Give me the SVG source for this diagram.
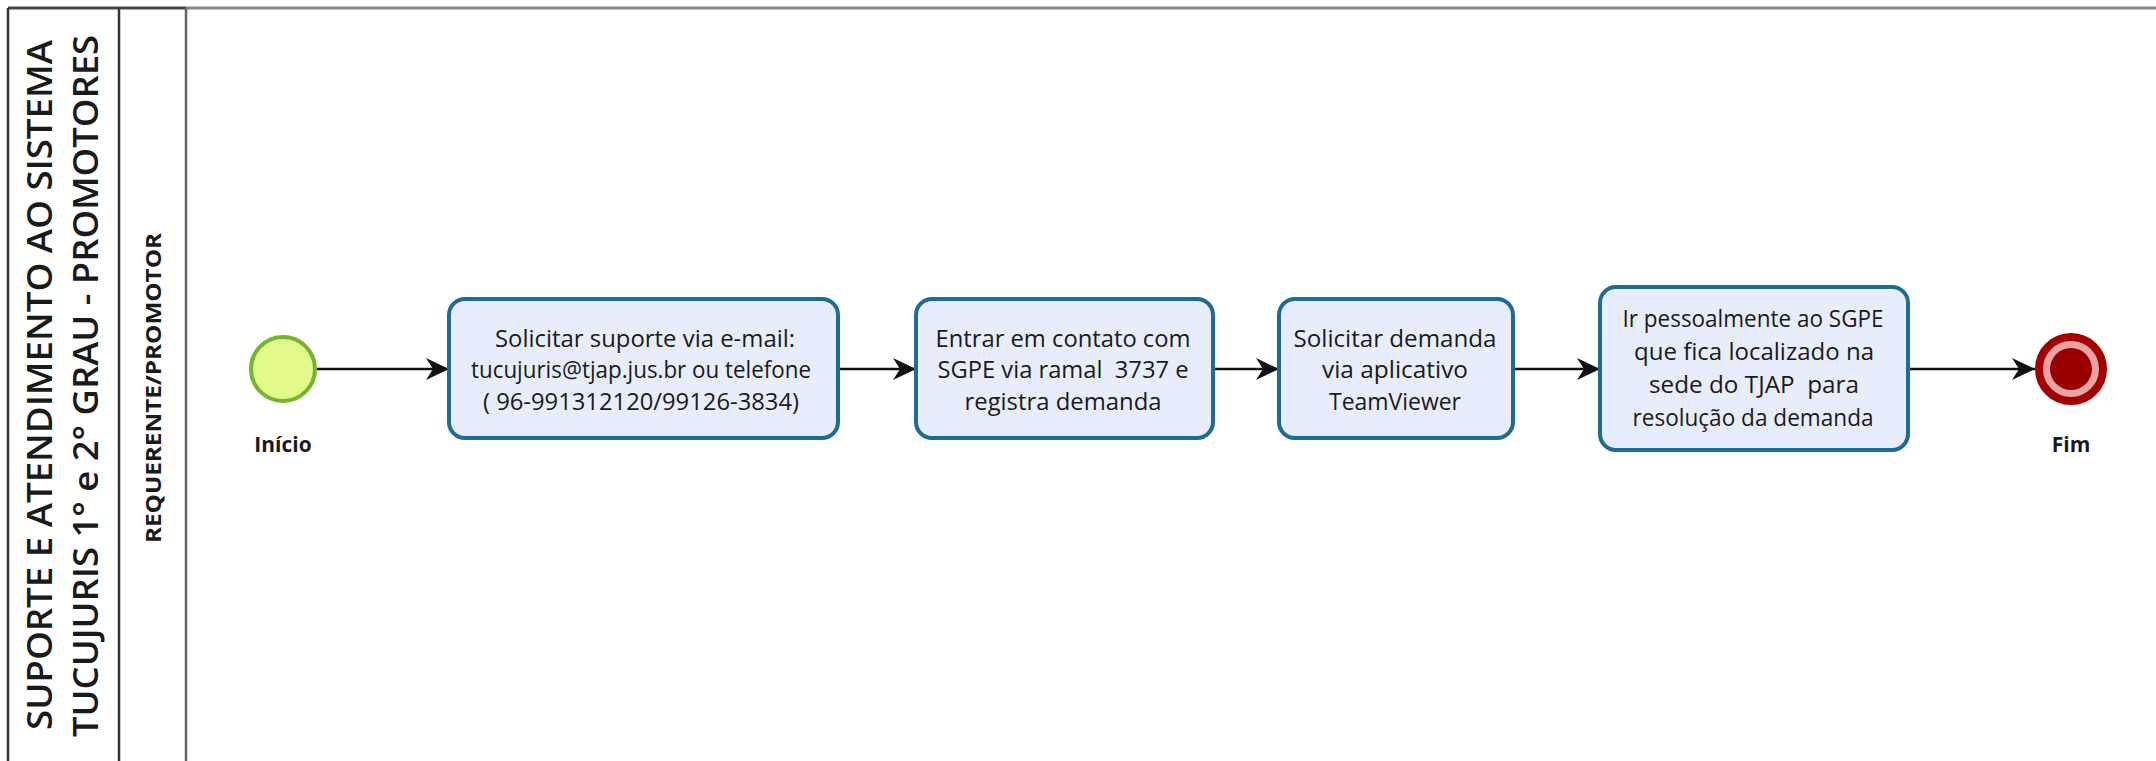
<svg xmlns="http://www.w3.org/2000/svg" width="2156" height="761" viewBox="0 0 2156 761">
<style>
.pool{fill:none;stroke:#333;stroke-width:2.5}
.lane{fill:none;stroke:#666;stroke-width:2.5}
.title{font-family:"Open Sans","Noto Sans",sans-serif;font-size:35px;font-weight:600;fill:#1a1a1a;text-anchor:middle}
.lanelbl{font-family:"Open Sans","Noto Sans",sans-serif;font-size:21px;font-weight:bold;fill:#1a1a1a;text-anchor:middle}
.task{fill:#e8edfb;stroke:#1f6b95;stroke-width:4}
.tt{font-family:"Open Sans","Noto Sans",sans-serif;font-size:23px;fill:#1a1a1a;text-anchor:middle;white-space:pre}
.lbl{font-family:"Open Sans","Noto Sans",sans-serif;font-size:21px;font-weight:bold;fill:#1a1a1a;text-anchor:middle}
.flow{fill:none;stroke:#111;stroke-width:2.5}
</style>
<defs>
<marker id="arr" markerUnits="userSpaceOnUse" markerWidth="24" markerHeight="24" viewBox="0 0 24 24" refX="23" refY="12" orient="auto">
<path d="M0,1 L23,12 L0,23 L7,12 z" fill="#111"/>
</marker>
</defs>
<rect x="0" y="0" width="2156" height="761" fill="#ffffff"/>
<g id="pool">
<line x1="8" y1="8" x2="2156" y2="8" stroke="#888" stroke-width="3"/>
<line x1="8" y1="8" x2="186" y2="8" stroke="#444" stroke-width="2.5"/>
<line x1="8" y1="8" x2="8" y2="761" class="pool"/>
<line x1="119" y1="8" x2="119" y2="761" class="pool"/>
<line x1="186" y1="8" x2="186" y2="761" class="lane"/>
<text class="title" x="52" y="385" transform="rotate(-90 52 385)" textLength="690" lengthAdjust="spacingAndGlyphs">SUPORTE E ATENDIMENTO AO SISTEMA</text>
<text class="title" x="98" y="386" transform="rotate(-90 98 386)" textLength="702" lengthAdjust="spacingAndGlyphs">TUCUJURIS 1° e 2° GRAU - PROMOTORES</text>
</g>
<g id="lane">
<text class="lanelbl" x="161" y="388" transform="rotate(-90 161 388)" textLength="310" lengthAdjust="spacingAndGlyphs">REQUERENTE/PROMOTOR</text>
</g>
<g id="connectors">
<line class="flow" x1="317" y1="369" x2="449" y2="369" marker-end="url(#arr)"/>
<line class="flow" x1="838" y1="369" x2="916" y2="369" marker-end="url(#arr)"/>
<line class="flow" x1="1213" y1="369" x2="1279" y2="369" marker-end="url(#arr)"/>
<line class="flow" x1="1513" y1="369" x2="1600" y2="369" marker-end="url(#arr)"/>
<line class="flow" x1="1908" y1="369" x2="2035" y2="369" marker-end="url(#arr)"/>
</g>
<g id="start">
<circle cx="283" cy="369" r="32" fill="#e2f98c" stroke="#74b62c" stroke-width="4"/>
<text class="lbl" x="283" y="452">Início</text>
</g>
<g id="task1">
<rect class="task" x="449" y="299" width="389" height="139" rx="16"/>
<text class="tt" x="645" y="347" textLength="300" lengthAdjust="spacingAndGlyphs">Solicitar suporte via e-mail:</text>
<text class="tt" x="641" y="378" textLength="340" lengthAdjust="spacingAndGlyphs">tucujuris@tjap.jus.br ou telefone</text>
<text class="tt" x="641" y="410" textLength="316" lengthAdjust="spacingAndGlyphs">( 96-991312120/99126-3834)</text>
</g>
<g id="task2">
<rect class="task" x="916" y="299" width="297" height="139" rx="16"/>
<text class="tt" x="1063" y="347" textLength="255" lengthAdjust="spacingAndGlyphs">Entrar em contato com</text>
<text class="tt" x="1063" y="378" textLength="251" lengthAdjust="spacingAndGlyphs">SGPE via ramal  3737 e</text>
<text class="tt" x="1063" y="410" textLength="197" lengthAdjust="spacingAndGlyphs">registra demanda</text>
</g>
<g id="task3">
<rect class="task" x="1279" y="299" width="234" height="139" rx="16"/>
<text class="tt" x="1395" y="347" textLength="203" lengthAdjust="spacingAndGlyphs">Solicitar demanda</text>
<text class="tt" x="1395" y="378" textLength="146" lengthAdjust="spacingAndGlyphs">via aplicativo</text>
<text class="tt" x="1395" y="410" textLength="132" lengthAdjust="spacingAndGlyphs">TeamViewer</text>
</g>
<g id="task4">
<rect class="task" x="1600" y="287" width="308" height="163" rx="16"/>
<text class="tt" x="1753" y="327" textLength="261" lengthAdjust="spacingAndGlyphs">Ir pessoalmente ao SGPE</text>
<text class="tt" x="1754" y="360" textLength="240" lengthAdjust="spacingAndGlyphs">que fica localizado na</text>
<text class="tt" x="1754" y="393" textLength="210" lengthAdjust="spacingAndGlyphs">sede do TJAP  para</text>
<text class="tt" x="1753" y="426" textLength="241" lengthAdjust="spacingAndGlyphs">resolução da demanda</text>
</g>
<g id="end">
<circle cx="2071" cy="369" r="32" fill="#e9a3a3" stroke="#a30000" stroke-width="8"/>
<circle cx="2071" cy="369" r="21" fill="#980000"/>
<text class="lbl" x="2071" y="452">Fim</text>
</g>
</svg>
